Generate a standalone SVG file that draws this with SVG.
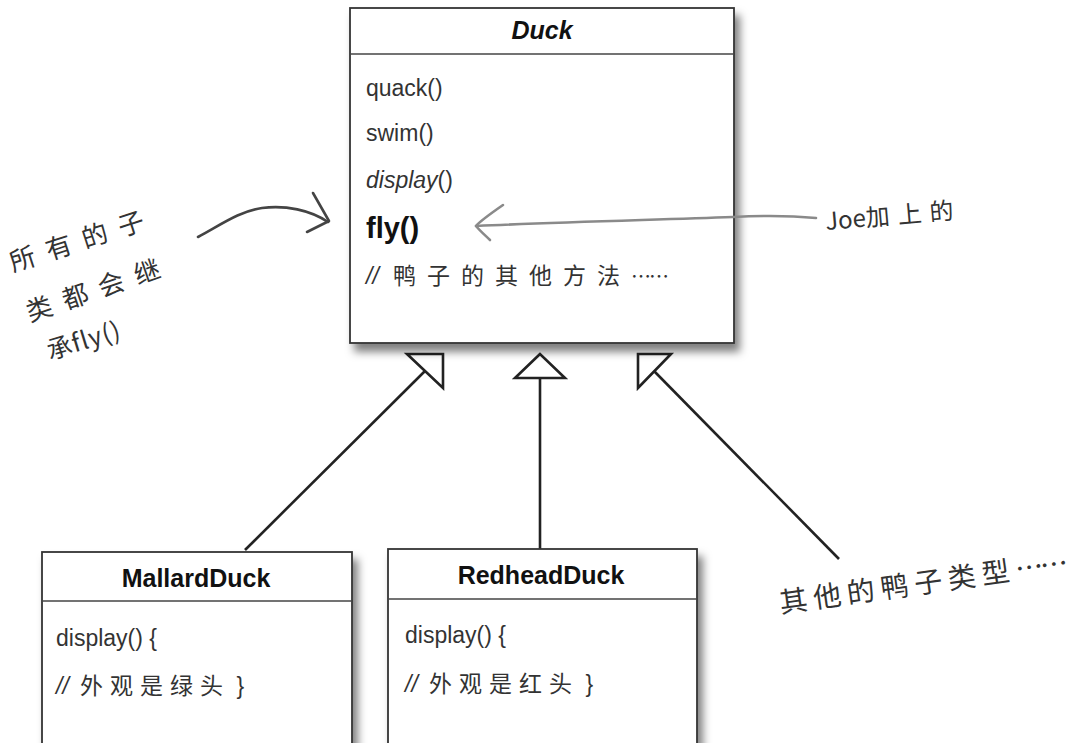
<svg xmlns="http://www.w3.org/2000/svg" width="1086" height="743" viewBox="0 0 1086 743">
<style>
.box{fill:#fff;stroke:#333;stroke-width:1.8}
.sep{stroke:#444;stroke-width:1.5}
.title{font-family:"Liberation Sans",Arial,sans-serif;font-weight:bold;fill:#111;text-anchor:middle}
.m{font-family:"Liberation Sans",Arial,sans-serif;font-size:23px;fill:#333}
.cj{font-family:"Liberation Sans","Noto Sans CJK SC",sans-serif;font-size:23px;fill:#333}
.hand{font-family:"Noto Sans CJK SC",sans-serif;font-weight:400;fill:#333}
.conn{stroke:#222;stroke-width:2.6;fill:none}
.tri{fill:#fff;stroke:#222;stroke-width:2.6;stroke-linejoin:miter}
.pen{stroke:#444;stroke-width:2.6;fill:none;stroke-linecap:round;stroke-linejoin:round}
.gray{stroke:#8a8a8a;stroke-width:2.6;fill:none;stroke-linecap:round;stroke-linejoin:round}
</style>
<defs>
<filter id="sh" x="-10%" y="-10%" width="130%" height="130%">
<feDropShadow dx="5" dy="8" stdDeviation="4" flood-color="#000" flood-opacity="0.5"/>
</filter>
</defs>
<rect width="1086" height="743" fill="#fff"/>

<g id="connectors">
<line class="conn" x1="245" y1="550" x2="425" y2="371"/>
<polygon class="tri" points="407,354 443,354 443,388"/>
<line class="conn" x1="540" y1="378" x2="540" y2="549"/>
<polygon class="tri" points="540,354 515,378 565,378"/>
<line class="conn" x1="654" y1="371" x2="839" y2="559"/>
<polygon class="tri" points="638,354 671,354 638,388"/>
</g>

<g id="duck">
<rect class="box" x="350" y="8" width="384" height="335" filter="url(#sh)"/>
<line class="sep" x1="350" y1="54" x2="734" y2="54"/>
<text class="title" x="542" y="39" style="font-size:25px;font-style:italic">Duck</text>
<text class="m" x="366" y="96">quack()</text>
<text class="m" x="366" y="141">swim()</text>
<text class="m" x="366" y="188"><tspan style="font-style:italic">display</tspan>()</text>
<text class="m" x="366" y="238" style="font-size:29px;font-weight:bold;fill:#111">fly()</text>
<text class="cj" x="366" y="284"><tspan style="font-style:italic">//</tspan><tspan x="393" style="font-family:'Noto Sans CJK SC',sans-serif;font-size:23px;letter-spacing:11px">鸭子的其他方法</tspan><tspan style="font-family:'Noto Sans CJK SC',sans-serif;font-size:20px;letter-spacing:-2px">……</tspan></text>
</g>

<g id="mallard">
<rect class="box" x="42" y="552" width="310" height="200" filter="url(#sh)"/>
<line class="sep" x1="42" y1="601" x2="352" y2="601"/>
<text class="title" x="196" y="587" style="font-size:25px">MallardDuck</text>
<text class="m" x="56" y="646">display() {</text>
<text class="cj" x="56" y="694"><tspan style="font-style:italic">//</tspan><tspan x="80" style="font-family:'Noto Sans CJK SC',sans-serif;font-size:23px;letter-spacing:7px">外观是绿头</tspan> }</text>
</g>

<g id="redhead">
<rect class="box" x="388" y="549" width="309" height="203" filter="url(#sh)"/>
<line class="sep" x1="388" y1="599" x2="697" y2="599"/>
<text class="title" x="541" y="584" style="font-size:25px">RedheadDuck</text>
<text class="m" x="405" y="643">display() {</text>
<text class="cj" x="405" y="692"><tspan style="font-style:italic">//</tspan><tspan x="429" style="font-family:'Noto Sans CJK SC',sans-serif;font-size:23px;letter-spacing:7px">外观是红头</tspan> }</text>
</g>

<g id="note-inherit">
<text class="hand" style="font-size:26px;letter-spacing:12px" transform="translate(13,272) rotate(-18)">所有的子</text>
<text class="hand" style="font-size:26px;letter-spacing:12px" transform="translate(30,322) rotate(-19)">类都会继</text>
<text class="hand" style="font-size:25px;letter-spacing:1px" transform="translate(50,360) rotate(-17)">承fly()</text>
<path class="pen" d="M198,237 C222,224 240,211 262,208 C286,205 310,210 328,222"/>
<path class="pen" d="M313,193 L329,221 L307,232"/>
</g>

<g id="note-joe">
<path class="gray" d="M476,226 C560,222 650,220 733,217 C770,215 795,216 816,218"/>
<path class="gray" d="M503,205 C490,214 480,221 476,226 C481,232 486,236 490,240"/>
<text class="hand" style="font-size:24px" transform="translate(826,230) rotate(-5)">Joe<tspan style="letter-spacing:8px">加上的</tspan></text>
</g>

<g id="note-others">
<text class="hand" style="font-size:28px;letter-spacing:6px" transform="translate(781,613) rotate(-8)">其他的鸭子类型<tspan style="letter-spacing:-3px">……</tspan></text>
</g>
</svg>
